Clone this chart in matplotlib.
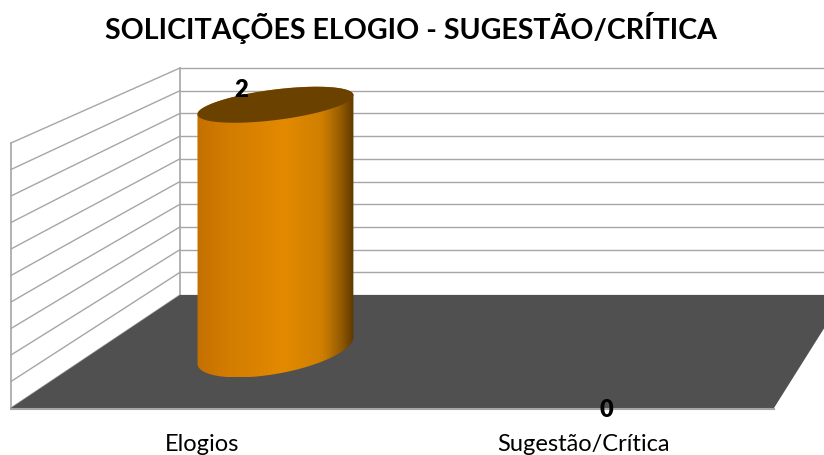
import numpy as np
import matplotlib
matplotlib.use("Agg")
import matplotlib.pyplot as plt
from matplotlib.patches import Polygon, PathPatch
from matplotlib.path import Path
from matplotlib.colors import LinearSegmentedColormap

plt.rcParams['font.family'] = ['Lato', 'DejaVu Sans']

# data
title = 'SOLICITAÇÕES ELOGIO - SUGESTÃO/CRÍTICA'
categories = ['Elogios', 'Sugestão/Crítica']
values = [2, 0]
ymax = 2.0
ystep = 0.2

# 3d box layout in pixels (y grows downward)
W, H = 824, 455
front_y, back_y = 408, 295
front_l, front_r = 11, 774
back_l, back_r = 180, 845
h_front, h_back = 265, 227
depth = 0.51          # where the cylinders stand on the floor
# ellipse shapes (semi axes, tilt) for the top and bottom caps
top_a, top_b, top_tilt = 78.6, 15.2, np.deg2rad(7.2)
bot_a, bot_b, bot_tilt = 79.2, 23.3, np.deg2rad(10.4)

grid_col = '#A6A6A6'
floor_col = '#505050'


def proj(u, d):
    # u: 0..1 across the floor, d: 0 front .. 1 back
    xl = front_l + (back_l - front_l) * d
    xr = front_r + (back_r - front_r) * d
    return xl + u * (xr - xl), front_y + (back_y - front_y) * d


def wall_h(d):
    return h_front + (h_back - h_front) * d


def ellipse_pts(cx, cy, t, a, b, tilt):
    x = cx + a * np.cos(tilt) * np.cos(t) + b * np.sin(tilt) * np.sin(t)
    y = cy - a * np.sin(tilt) * np.cos(t) + b * np.cos(tilt) * np.sin(t)
    return x, y


fig = plt.figure(figsize=(W / 100, H / 100), dpi=100)
ax = fig.add_axes([0, 0, 1, 1])
ax.set_xlim(0, W)
ax.set_ylim(H, 0)
ax.axis('off')

# side wall and back wall grid
ticks = np.arange(0, ymax + ystep / 2, ystep)
for v in ticks:
    yl = front_y - h_front * v / ymax
    yr = back_y - h_back * v / ymax
    ax.plot([front_l, back_l], [yl, yr], color=grid_col, lw=1.0, zorder=2)
    ax.plot([back_l, W], [yr, yr], color=grid_col, lw=1.0, zorder=2)
ax.plot([front_l, front_l], [front_y, front_y - h_front], color=grid_col, lw=1.2, zorder=2)
ax.plot([back_l, back_l], [back_y, back_y - h_back], color=grid_col, lw=1.2, zorder=2)

# floor
ax.add_patch(Polygon([(front_l, front_y), (front_r, front_y), (back_r, back_y), (back_l, back_y)],
                     closed=True, facecolor=floor_col, edgecolor='none', zorder=3))
ax.plot([front_l, front_r], [front_y + 0.5, front_y + 0.5], color=grid_col, lw=1.5, zorder=3)

# cylinders
cmap = LinearSegmentedColormap.from_list('cyl', [
    (0.0, '#C57100'), (0.2, '#D27C00'), (0.55, '#E38A00'),
    (0.8, '#CF7F00'), (0.91, '#9A5E00'), (1.0, '#5E3800')])
grad = np.linspace(0, 1, 256).reshape(1, -1)
n = len(categories)
for i, (cat, v) in enumerate(zip(categories, values)):
    u = (i + 0.5) / n
    cx, cy = proj(u, depth)
    fx, fy = proj(u, 0)
    hpx = wall_h(depth) * v / ymax
    if v > 0:
        t_bot = np.linspace(0, np.pi, 90)
        t_top = np.linspace(np.pi, 2 * np.pi, 90)
        bx, by = ellipse_pts(cx, cy, t_bot, bot_a, bot_b, bot_tilt)
        tx, ty = ellipse_pts(cx, cy - hpx, t_top, top_a, top_b, top_tilt)
        verts = np.column_stack([np.r_[bx, tx], np.r_[by, ty]])
        body = PathPatch(Path(np.vstack([verts, verts[:1]]), closed=True),
                         facecolor='none', edgecolor='none')
        ax.add_patch(body)
        xmin, xmax = verts[:, 0].min(), verts[:, 0].max()
        im = ax.imshow(grad, cmap=cmap, aspect='auto', zorder=4,
                       extent=[xmin, xmax, verts[:, 1].max(), verts[:, 1].min()])
        im.set_clip_path(body)
        ex, ey = ellipse_pts(cx, cy - hpx, np.linspace(0, 2 * np.pi, 180),
                             top_a, top_b, top_tilt)
        ax.add_patch(Polygon(np.column_stack([ex, ey]), closed=True,
                             facecolor='#6B4100', edgecolor='none', zorder=5))
        ax.text(cx - 34, cy - hpx - 15, str(v), ha='center', va='center',
                fontsize=17, fontweight='heavy', color='black', zorder=6)
    else:
        ax.text(fx + 23, fy + 2, str(v), ha='center', va='center',
                fontsize=17, fontweight='heavy', color='black', zorder=6)
    ax.text(fx, 451, cat, ha='center', va='baseline', fontsize=17, color='black')

ax.text(411.5, 39, title, ha='center', va='baseline', fontsize=20.6,
        fontweight='bold', color='black')

fig.savefig('out.png', dpi=100)
